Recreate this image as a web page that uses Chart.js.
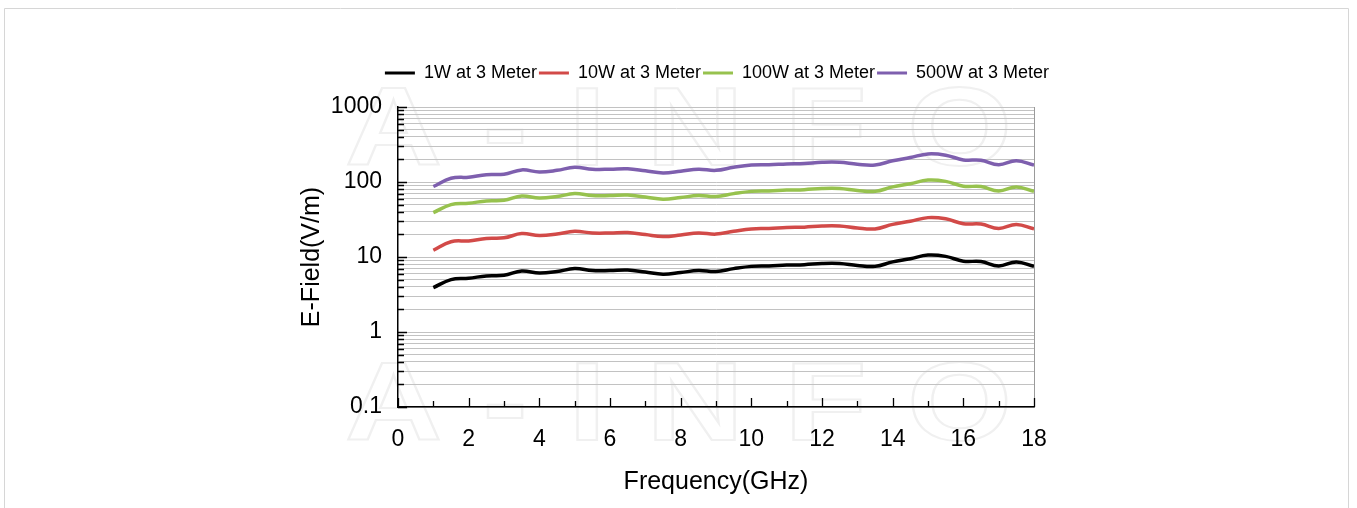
<!DOCTYPE html>
<html>
<head>
<meta charset="utf-8">
<script src="https://cdn.jsdelivr.net/npm/chart.js@4.4.1/dist/chart.umd.min.js"></script>
<style>
  html, body { margin: 0; padding: 0; background: #fff; }
</style>
</head>
<body>
<canvas id="chart" width="1357" height="508"></canvas>
<script>
// frequency points (GHz)
const freqs = [1, 1.5, 2, 2.5, 3, 3.5, 4, 4.5, 5, 5.5, 6, 6.5, 7, 7.5, 8, 8.5, 9, 9.5,
  10, 10.5, 11, 11.5, 12, 12.5, 13, 13.5, 14, 14.5, 15, 15.5, 16, 16.5, 17, 17.5, 18];

// E-field values (V/m)
const field1W = [3.9, 5.0, 5.2, 5.6, 5.7, 6.5, 6.1, 6.4, 7.0, 6.6, 6.6, 6.7, 6.3, 5.9, 6.2, 6.6, 6.4, 7.0,
  7.5, 7.6, 7.8, 7.9, 8.2, 8.2, 7.7, 7.5, 8.6, 9.5, 10.6, 10.2, 8.8, 8.7, 7.6, 8.6, 7.5];
const field10W = [12.3, 16, 16.4, 17.7, 18, 20.5, 19.3, 20.2, 22, 20.9, 20.9, 21.2, 19.9, 18.7, 19.6, 20.9, 20.2, 22,
  23.7, 24, 24.7, 25, 25.9, 25.9, 24.3, 23.7, 27.2, 30, 33.5, 32.3, 27.8, 27.5, 24, 27.2, 23.7];
const field100W = [39, 50, 52, 56, 57, 65, 61, 64, 70, 66, 66, 67, 63, 59, 62, 66, 64, 70,
  75, 76, 78, 79, 82, 82, 77, 75, 86, 95, 106, 102, 88, 87, 76, 86, 75];
const field500W = [87, 112, 116, 125, 127, 145, 136, 143, 157, 148, 148, 150, 141, 132, 139, 148, 143, 157,
  168, 170, 174, 177, 183, 183, 172, 168, 192, 212, 237, 228, 197, 195, 170, 192, 168];

const seriesNames = ["1W at 3 Meter", "10W at 3 Meter", "100W at 3 Meter", "500W at 3 Meter"];
const seriesColors = ["#000000", "#d24a48", "#97c24e", "#7e5fae"];

// y gridlines at every log step, labels only on decades
const yTicks = [0.1, 0.2, 0.3, 0.4, 0.5, 0.6, 0.7, 0.8, 0.9,
  1, 2, 3, 4, 5, 6, 7, 8, 9,
  10, 20, 30, 40, 50, 60, 70, 80, 90,
  100, 200, 300, 400, 500, 600, 700, 800, 900, 1000];
const yLabels = [0.1, 1, 10, 100, 1000];
const xTickMarks = [0, 1, 2, 3, 4, 5, 6, 7, 8, 9, 10, 11, 12, 13, 14, 15, 16, 17, 18];

const FONT = "'Liberation Sans', Arial, sans-serif";

const frameAndMarks = {
  id: "frameAndMarks",
  beforeDraw(chart) {
    const ctx = chart.ctx;
    ctx.save();
    ctx.fillStyle = "#fff";
    ctx.fillRect(0, 0, chart.width, chart.height);
    ctx.strokeStyle = "#d6d6d6";
    ctx.lineWidth = 1;
    ctx.beginPath();
    ctx.moveTo(4.5, chart.height + 2);
    ctx.lineTo(4.5, 8.5);
    ctx.lineTo(1348.5, 8.5);
    ctx.lineTo(1348.5, chart.height + 2);
    ctx.stroke();
    // faint watermark
    ctx.strokeStyle = "#f0f0f0";
    ctx.lineWidth = 2;
    ctx.font = "bold 112px " + FONT;
    ctx.letterSpacing = "34px";
    ctx.textBaseline = "alphabetic";
    [165, 440].forEach(y => {
      ctx.save();
      ctx.translate(345, y);
      ctx.scale(1.2, 1);
      ctx.strokeText("A-INFO", 0, 0);
      ctx.restore();
    });
    ctx.restore();
  },
  afterDatasetsDraw(chart) {
    const ctx = chart.ctx;
    const { left, right, top, bottom } = chart.chartArea;
    const xs = chart.scales.x, ys = chart.scales.y;
    ctx.save();
    ctx.strokeStyle = "#9a9a9a";
    ctx.lineWidth = 1;
    ctx.beginPath();
    ctx.moveTo(Math.round(right) + 0.5, top);
    ctx.lineTo(Math.round(right) + 0.5, bottom);
    ctx.stroke();
    ctx.strokeStyle = "#000";
    ctx.lineWidth = 1.3;
    ctx.beginPath();
    xTickMarks.forEach(v => {
      const px = Math.round(xs.getPixelForValue(v)) + 0.5;
      const len = v % 2 === 0 ? 9 : 6;
      ctx.moveTo(px, bottom);
      ctx.lineTo(px, bottom - len);
    });
    yTicks.forEach(v => {
      const py = Math.round(ys.getPixelForValue(v)) + 0.5;
      const len = yLabels.includes(v) ? 9 : 6;
      ctx.moveTo(left, py);
      ctx.lineTo(left + len, py);
    });
    ctx.stroke();
    ctx.restore();
  }
};

const valueSets = [field1W, field10W, field100W, field500W];

// empty spacer axes, only used to place the legend and plot area
const spacer = (size, horizontal) => ({
  type: "linear",
  axis: horizontal ? "x" : "y",
  display: true,
  position: horizontal ? "top" : "right",
  ticks: { display: false },
  grid: { display: false, drawTicks: false },
  border: { display: false },
  afterFit: (s) => { if (horizontal) s.height = size; else s.width = size; }
});

new Chart(document.getElementById("chart"), {
  type: "line",
  data: {
    datasets: valueSets.map((vals, i) => ({
      label: seriesNames[i],
      data: freqs.map((f, j) => ({ x: f, y: vals[j] })),
      xAxisID: "x",
      yAxisID: "y",
      borderColor: seriesColors[i],
      backgroundColor: seriesColors[i],
      borderWidth: 3.5,
      pointRadius: 0,
      tension: 0.4,
      fill: false
    }))
  },
  options: {
    responsive: false,
    devicePixelRatio: 1,
    animation: false,
    layout: { padding: { left: 290, right: 213, top: 62, bottom: 10 } },
    plugins: {
      legend: {
        display: true,
        position: "top",
        labels: {
          font: { family: FONT, size: 18 },
          color: "#000",
          boxWidth: 30,
          boxHeight: 3,
          padding: 2,
          generateLabels: (chart) => Chart.defaults.plugins.legend.labels.generateLabels(chart)
            .map(l => ({ ...l, lineWidth: 0, fillStyle: l.strokeStyle }))
        }
      },
      tooltip: { enabled: false }
    },
    scales: {
      x: {
        type: "linear",
        min: 0,
        max: 18,
        afterFit: (s) => { s.height = 91; },
        ticks: { stepSize: 2, color: "#000", font: { family: FONT, size: 23 }, padding: 19, maxRotation: 0 },
        grid: { display: false, drawTicks: false },
        border: { display: true, color: "#000", width: 1.5 },
        title: { display: true, text: "Frequency(GHz)", color: "#000", font: { family: FONT, size: 25 }, padding: { top: 0, bottom: 1 } }
      },
      y: {
        type: "logarithmic",
        min: 0.1,
        max: 1000,
        afterFit: (s) => { s.width = 108; },
        afterBuildTicks: (s) => { s.ticks = yTicks.map(v => ({ value: v })); },
        ticks: {
          color: "#000",
          font: { family: FONT, size: 23 },
          padding: 16,
          autoSkip: false,
          callback: (v) => yLabels.includes(v) ? String(v) : ""
        },
        grid: { color: "#c2c2c2", lineWidth: 1, drawTicks: false },
        border: { display: true, color: "#000", width: 1.5 },
        title: { display: true, text: "E-Field(V/m)", color: "#000", font: { family: FONT, size: 25 }, padding: { top: 7, bottom: 0 } }
      },
      xTopSpace: spacer(15, true),
      yRightSpace: spacer(110, false)
    }
  },
  plugins: [frameAndMarks]
});
</script>
</body>
</html>
